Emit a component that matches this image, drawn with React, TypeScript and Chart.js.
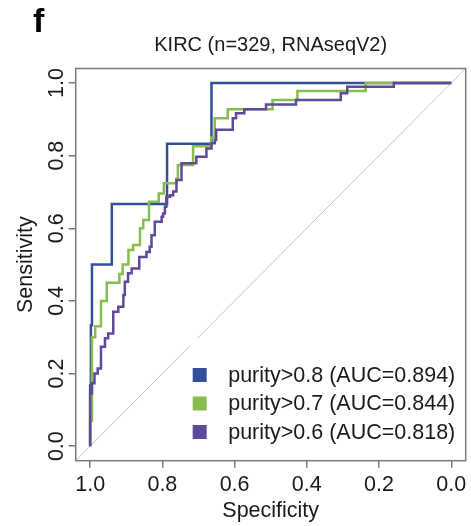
import React, { useEffect, useRef } from "react";
import { Chart, registerables } from "chart.js";

Chart.register(...registerables);

// ---------- text ----------
const PANEL_LETTER = "f";
const TITLE = "KIRC (n=329, RNAseqV2)";
const X_LABEL = "Specificity";
const Y_LABEL = "Sensitivity";

// ---------- ticks ----------
const TICK_VALUES = [0, 0.2, 0.4, 0.6, 0.8, 1.0];
const TICK_LABELS = ["0.0", "0.2", "0.4", "0.6", "0.8", "1.0"];

// ---------- series ----------
const SERIES_NAMES = [
  "purity>0.8 (AUC=0.894)",
  "purity>0.7 (AUC=0.844)",
  "purity>0.6 (AUC=0.818)",
];
const SERIES_COLORS = ["#32509a", "#87bd4f", "#5e4a98"];

// ROC step corners (specificity, sensitivity)
const specBlue = [1, 1, 0.998, 0.995, 0.94, 0.787, 0.664, 0];
const sensBlue = [0, 0.167, 0.333, 0.5, 0.667, 0.833, 1, 1];

const specGreen = [
  1, 1, 0.995, 0.986, 0.97, 0.954, 0.919, 0.91, 0.894, 0.881, 0.862, 0.853,
  0.837, 0.81, 0.796, 0.761, 0.757, 0.715, 0.665, 0.655, 0.619, 0.495, 0.426,
  0.237, 0,
];
const sensGreen = [
  0, 0.07, 0.3, 0.33, 0.4, 0.45, 0.474, 0.5, 0.54, 0.554, 0.6, 0.623, 0.673,
  0.696, 0.724, 0.737, 0.774, 0.826, 0.85, 0.903, 0.928, 0.953, 0.978, 1, 1,
];

const specPurple = [
  1, 1, 0.995, 0.988, 0.979, 0.97, 0.959, 0.95, 0.936, 0.922, 0.908, 0.904,
  0.895, 0.885, 0.864, 0.844, 0.835, 0.83, 0.821, 0.802, 0.798, 0.793, 0.789,
  0.779, 0.77, 0.761, 0.747, 0.706, 0.678, 0.664, 0.655, 0.651, 0.605, 0.596,
  0.573, 0.513, 0.43, 0.306, 0.288, 0.159, 0,
];
const sensPurple = [
  0, 0.145, 0.173, 0.2, 0.214, 0.274, 0.297, 0.31, 0.37, 0.384, 0.416, 0.453,
  0.476, 0.489, 0.521, 0.535, 0.549, 0.581, 0.618, 0.632, 0.641, 0.659, 0.687,
  0.691, 0.701, 0.733, 0.779, 0.797, 0.82, 0.834, 0.843, 0.871, 0.903, 0.917,
  0.928, 0.941, 0.953, 0.972, 0.99, 1, 1,
];

// chance diagonal
const diagSpec = [1.04, -0.04];
const diagSens = [-0.04, 1.04];

const AXIS_MIN = -0.04;
const AXIS_MAX = 1.04;

const FONT = "'Liberation Sans', Arial, Helvetica, sans-serif";
const TEXT_COLOR = "#1a1a1a";
const AXIS_COLOR = "#7a7a7a";

const toPoints = (xs: number[], ys: number[]) =>
  xs.map((x, i) => ({ x, y: ys[i] }));

const tickLabel = (v: number) => {
  const i = TICK_VALUES.findIndex((t) => Math.abs(t - v) < 1e-9);
  return i >= 0 ? TICK_LABELS[i] : "";
};

const setTicks = (scale: any) => {
  scale.ticks = TICK_VALUES.map((v) => ({ value: v }));
};

const decorPlugin = {
  id: "decor",
  afterDatasetsDraw(chart: any) {
    const { ctx, chartArea } = chart;
    const { left, top, right, bottom } = chartArea;
    ctx.save();
    // legend background (white, no border)
    const lgLeft = left + 114.5;
    const lgTop = top + 269.5;
    ctx.fillStyle = "#ffffff";
    ctx.fillRect(lgLeft, lgTop, right - 2 - lgLeft, bottom - 2 - lgTop);
    // legend entries
    const rowY = [375, 403.5, 432];
    ctx.font = `21.5px ${FONT}`;
    ctx.textBaseline = "middle";
    ctx.textAlign = "left";
    SERIES_NAMES.forEach((name, i) => {
      ctx.fillStyle = SERIES_COLORS[i];
      ctx.fillRect(left + 117, rowY[i] - 7, 14, 14);
      ctx.fillStyle = TEXT_COLOR;
      ctx.fillText(name, left + 152.5, rowY[i] + 1);
    });
    // plot box
    ctx.strokeStyle = AXIS_COLOR;
    ctx.lineWidth = 1.5;
    ctx.strokeRect(left, top, right - left, bottom - top);
    ctx.restore();
  },
  afterDraw(chart: any) {
    const { ctx } = chart;
    ctx.save();
    ctx.font = `bold 34px ${FONT}`;
    ctx.fillStyle = "#000";
    ctx.textBaseline = "alphabetic";
    ctx.textAlign = "left";
    ctx.fillText(PANEL_LETTER, 33, 32);
    ctx.restore();
  },
};

export default function App() {
  const canvasRef = useRef<HTMLCanvasElement | null>(null);

  useEffect(() => {
    if (!canvasRef.current) return;
    const lineDs = (label: string, pts: any[], color: string, order: number) => ({
      label,
      data: pts,
      borderColor: color,
      backgroundColor: color,
      borderWidth: 2.5,
      pointRadius: 0,
      stepped: "before" as const,
      fill: false,
      order,
    });
    const chart = new Chart(canvasRef.current, {
      type: "line",
      data: {
        datasets: [
          {
            label: "chance",
            data: toPoints(diagSpec, diagSens),
            borderColor: "#c4c4c4",
            borderWidth: 1,
            pointRadius: 0,
            fill: false,
            order: 3,
          },
          lineDs(SERIES_NAMES[0], toPoints(specBlue, sensBlue), SERIES_COLORS[0], 2),
          lineDs(SERIES_NAMES[1], toPoints(specGreen, sensGreen), SERIES_COLORS[1], 1),
          lineDs(SERIES_NAMES[2], toPoints(specPurple, sensPurple), SERIES_COLORS[2], 0),
        ],
      },
      options: {
        responsive: false,
        animation: false,
        devicePixelRatio: 1,
        layout: { padding: { left: 0, right: 5.3, top: 0, bottom: 0 } },
        plugins: {
          legend: { display: false },
          tooltip: { enabled: false },
          title: {
            display: true,
            text: TITLE,
            fullSize: false,
            color: TEXT_COLOR,
            font: { family: FONT, size: 20, weight: "normal" },
            padding: { top: 33, bottom: 11.5 },
          },
        },
        scales: {
          x: {
            type: "linear",
            reverse: true,
            min: AXIS_MIN,
            max: AXIS_MAX,
            afterBuildTicks: setTicks,
            afterFit: (s: any) => {
              s.height = 65.3;
            },
            ticks: {
              callback: (v: any) => tickLabel(Number(v)),
              font: { family: FONT, size: 21.5 },
              color: TEXT_COLOR,
              padding: 4,
              maxRotation: 0,
              minRotation: 0,
              autoSkip: false,
            },
            grid: {
              display: true,
              drawOnChartArea: false,
              drawTicks: true,
              tickLength: 7,
              color: AXIS_COLOR,
              lineWidth: 1.5,
            },
            border: { display: false },
            title: {
              display: true,
              text: X_LABEL,
              color: TEXT_COLOR,
              font: { family: FONT, size: 21.5 },
              padding: { top: 0, bottom: 2 },
            },
          },
          y: {
            type: "linear",
            min: AXIS_MIN,
            max: AXIS_MAX,
            afterBuildTicks: setTicks,
            afterFit: (s: any) => {
              s.width = 75.7;
            },
            ticks: {
              callback: (v: any) => tickLabel(Number(v)),
              font: { family: FONT, size: 21.5 },
              color: TEXT_COLOR,
              padding: -3.4,
              minRotation: 90,
              maxRotation: 90,
              crossAlign: "center",
              autoSkip: false,
            },
            grid: {
              display: true,
              drawOnChartArea: false,
              drawTicks: true,
              tickLength: 7,
              color: AXIS_COLOR,
              lineWidth: 1.5,
            },
            border: { display: false },
            title: {
              display: true,
              text: Y_LABEL,
              color: TEXT_COLOR,
              font: { family: FONT, size: 21.5 },
              padding: { top: 13.4, bottom: 0 },
            },
          },
        },
      },
      plugins: [decorPlugin],
    } as any);
    return () => chart.destroy();
  }, []);

  return (
    <div style={{ position: "absolute", left: 0, top: 0, width: 471, height: 526 }}>
      <canvas ref={canvasRef} width={471} height={526} style={{ display: "block" }} />
    </div>
  );
}
